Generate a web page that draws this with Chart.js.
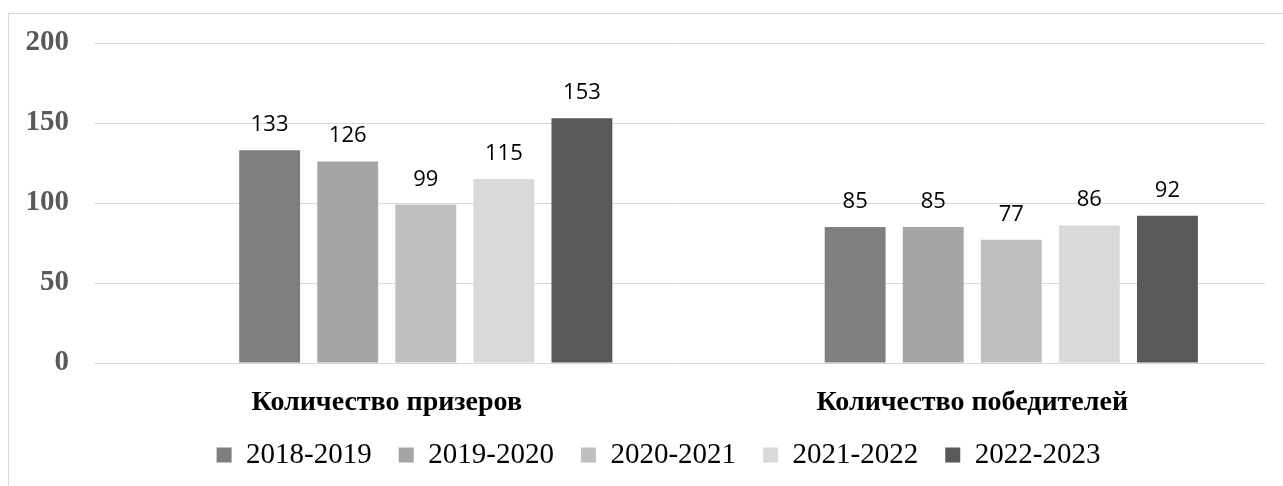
<!DOCTYPE html>
<html lang="ru">
<head>
<meta charset="utf-8">
<title>Призеры и победители</title>
<script src="https://cdn.jsdelivr.net/npm/chart.js@4/dist/chart.umd.min.js"></script>
<style>
    html, body { margin: 0; padding: 0; background: #ffffff; overflow: hidden; }
    #frame {
        position: absolute; left: 8px; top: 13px;
        width: 1300px; height: 500px;
        border: 1px solid #d9d9d9;
    }
    #chart { position: absolute; left: 0; top: 0; }
</style>
</head>
<body>
<div id="frame"></div>
<canvas id="chart" width="1283" height="486"></canvas>
<script>
"use strict";

// Данные диаграммы
const categories = ['Количество призеров', 'Количество победителей'];
const seasons = ['2018-2019', '2019-2020', '2020-2021', '2021-2022', '2022-2023'];
const values2018 = [133, 85];
const values2019 = [126, 85];
const values2020 = [99, 77];
const values2021 = [115, 86];
const values2022 = [153, 92];
const seasonColors = ['#7f7f7f', '#a5a5a5', '#bfbfbf', '#d9d9d9', '#595959'];
const yTicks = [0, 50, 100, 150, 200];

const seriesValues = [values2018, values2019, values2020, values2021, values2022];

// В исходнике перед рядами есть пустое место (пустой ряд)
const datasets = [{
    label: '',
    data: categories.map(() => null),
    backgroundColor: 'rgba(0,0,0,0)',
    skipLabel: true
}].concat(seasons.map((s, i) => ({
    label: s,
    data: seriesValues[i],
    backgroundColor: seasonColors[i],
    borderWidth: 0
})));

/**
 * Подписи значений над столбцами
 */
const valueLabels = {
    id: 'valueLabels',
    afterDatasetsDraw(chart) {
        const ctx = chart.ctx;
        ctx.save();
        ctx.font = '22px "Open Sans", sans-serif';
        ctx.fillStyle = '#000000';
        ctx.textAlign = 'center';
        ctx.textBaseline = 'alphabetic';
        chart.data.datasets.forEach((ds, di) => {
            if (ds.skipLabel) return;
            const meta = chart.getDatasetMeta(di);
            meta.data.forEach((bar, i) => {
                const v = ds.data[i];
                if (v === null || v === undefined) return;
                ctx.fillText(String(v), bar.x, bar.y - 19);
            });
        });
        ctx.restore();
    }
};

// Легенда в оригинале чуть смещена вправо; подписи категорий не обрезаем
const layoutTweaks = {
    id: 'layoutTweaks',
    afterLayout(chart) {
        if (chart.legend) chart.legend.left += 32;
        chart.scales.x.bottom += 14;
    }
};

new Chart(document.getElementById('chart'), {
    type: 'bar',
    data: {
        labels: categories,
        datasets: datasets
    },
    options: {
        responsive: false,
        animation: false,
        categoryPercentage: 0.8,
        barPercentage: 0.78,
        layout: {
            padding: { left: 20, right: 18, top: 43, bottom: 6.5 }
        },
        scales: {
            x: {
                grid: { display: false },
                border: { display: false },
                ticks: {
                    color: '#000000',
                    padding: 15,
                    font: { family: '"Liberation Serif", "Times New Roman", serif', size: 28, weight: 'bold' }
                },
                afterFit: scale => { scale.height = 50.5; }
            },
            y: {
                min: 0,
                max: 200,
                afterBuildTicks: scale => { scale.ticks = yTicks.map(v => ({ value: v })); },
                grid: { color: '#d9d9d9', lineWidth: 1, drawTicks: false },
                border: { display: false },
                ticks: {
                    color: '#595959',
                    padding: 25,
                    font: { family: '"Liberation Serif", "Times New Roman", serif', size: 29, weight: 'bold' }
                },
                afterFit: scale => { scale.width = 74; }
            }
        },
        plugins: {
            legend: {
                position: 'bottom',
                align: 'center',
                labels: {
                    color: '#000000',
                    boxWidth: 15,
                    boxHeight: 15,
                    padding: 27,
                    font: { family: '"Liberation Serif", "Times New Roman", serif', size: 29 },
                    filter: item => item.text !== ''
                }
            },
            tooltip: { enabled: false }
        }
    },
    plugins: [valueLabels, layoutTweaks]
});
</script>
</body>
</html>
